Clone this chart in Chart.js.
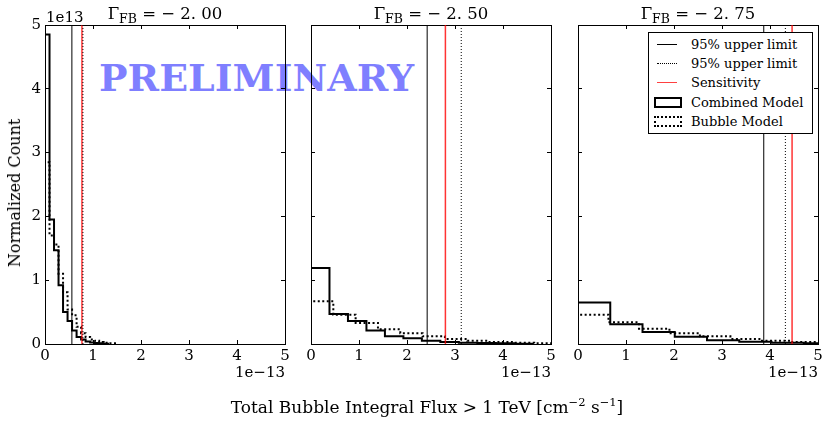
<!DOCTYPE html>
<html>
<head>
<meta charset="utf-8">
<script src="https://cdn.jsdelivr.net/npm/chart.js@4.4.1/dist/chart.umd.min.js"></script>
<style>
  body { margin: 0; background: #fff; }
  #wrap { position: relative; width: 830px; height: 424px; background: #fff; font-family: 'DejaVu Serif', serif; color: #000; overflow: hidden; }
  canvas { position: absolute; left: 0; top: 0; z-index: 1; }
  .txt { position: absolute; white-space: nowrap; line-height: 1; z-index: 2; }
  .title { font-size: 16.5px; transform: translateX(-50%); top: 6px; }
  .title sub { font-size: 12.5px; vertical-align: -3.5px; line-height: 0; }
  .offset { font-size: 15px; }
  #prelim { position: absolute; left: 99px; top: 58.5px; font-size: 38px; font-weight: bold; line-height: 1; color: rgba(0, 0, 255, 0.5); z-index: 0; white-space: nowrap; }
  #legend { position: absolute; left: 648px; top: 32px; width: 163px; height: 100px; border: 1px solid #000; background: #fff; z-index: 3; font-size: 13px; }
  .row { position: absolute; left: 0; height: 18px; display: flex; align-items: center; }
  .hl { position: absolute; left: 8px; width: 20px; height: 0; }
  .hr { position: absolute; left: 5px; width: 24px; height: 7px; }
  .lab { position: absolute; left: 42px; white-space: nowrap; }
</style>
</head>
<body>
<div id="wrap">
  <div id="prelim">PRELIMINARY</div>
  <canvas id="p1" width="830" height="424"></canvas>
  <canvas id="p2" width="830" height="424"></canvas>
  <canvas id="p3" width="830" height="424"></canvas>

  <div class="txt title" style="left:165px">&Gamma;<sub>FB</sub> = &minus; 2. 00</div>
  <div class="txt title" style="left:431px">&Gamma;<sub>FB</sub> = &minus; 2. 50</div>
  <div class="txt title" style="left:698px">&Gamma;<sub>FB</sub> = &minus; 2. 75</div>

  <div class="txt offset" style="left:46px; top:10px">1e13</div>
  <div class="txt offset" style="right:545px; top:365px">1e&minus;13</div>
  <div class="txt offset" style="right:279px; top:365px">1e&minus;13</div>
  <div class="txt offset" style="right:12px; top:365px">1e&minus;13</div>

  <div class="txt" style="left:15px; top:193px; font-size:16px; transform: translate(-50%, -50%) rotate(-90deg)">Normalized Count</div>
  <div class="txt" style="left:427px; top:397px; font-size:17px; transform: translateX(-50%)">Total Bubble Integral Flux &gt; 1 TeV [cm<sup style="font-size:11.5px">&minus;2</sup> s<sup style="font-size:11.5px">&minus;1</sup>]</div>

  <div id="legend">
    <div class="row" style="top:2px"><div class="hl" style="border-top:1px solid #000"></div><span class="lab">95% upper limit</span></div>
    <div class="row" style="top:21px"><div class="hl" style="border-top:1px dotted #000"></div><span class="lab">95% upper limit</span></div>
    <div class="row" style="top:40px"><div class="hl" style="border-top:1.5px solid rgba(255,0,0,0.75)"></div><span class="lab">Sensitivity</span></div>
    <div class="row" style="top:60px"><div class="hr" style="border:2px solid #000"></div><span class="lab">Combined Model</span></div>
    <div class="row" style="top:79px"><div class="hr" style="border:2px dotted #000"></div><span class="lab">Bubble Model</span></div>
  </div>
</div>

<script>
Chart.defaults.font.family = "'DejaVu Serif', serif";
Chart.defaults.color = '#000';

// axis ticks, shared by x (1e-13) and y (1e13)
const tickValues = [0, 1, 2, 3, 4, 5];
const tickLabels = ['0', '1', '2', '3', '4', '5'];

// Gamma = -2.00
const combined200 = [4.85, 1.95, 1.47, 0.92, 0.50, 0.36, 0.21, 0.11, 0.07, 0.04, 0.025, 0.015, 0.01, 0.005];
const bubble200 = [2.85, 1.70, 1.56, 1.10, 0.81, 0.54, 0.45, 0.27, 0.17, 0.11, 0.07, 0.05, 0.03, 0.02, 0.01, 0.01];
const binWidthCombined200 = 0.094;
const binWidthBubble200 = 0.094;

// Gamma = -2.50
const combined250 = [1.19, 0.47, 0.36, 0.21, 0.12, 0.09, 0.05, 0.03, 0.02, 0.015, 0.01, 0.005];
const bubble250 = [0.67, 0.46, 0.33, 0.23, 0.17, 0.12, 0.08, 0.05, 0.03, 0.02, 0.01];
const binWidthCombined250 = 0.385;
const binWidthBubble250 = 0.465;

// Gamma = -2.75
const combined275 = [0.65, 0.31, 0.19, 0.115, 0.06, 0.035, 0.02, 0.01];
const bubble275 = [0.46, 0.34, 0.24, 0.17, 0.12, 0.08, 0.05, 0.03];
const binWidthCombined275 = 0.672;
const binWidthBubble275 = 0.635;

// vertical markers per panel (-2.00, -2.50, -2.75)
const upperLimitCombined = [0.56, 2.42, 3.87];
const upperLimitBubble = [0.79, 3.13, 4.32];
const sensitivity = [0.77, 2.80, 4.46];

const Y_AXIS_W = 40;
const X_AXIS_H = 30;

function stepPoints(heights, width) {
    const pts = [{ x: 0, y: 0 }];
    heights.forEach((h, i) => pts.push({ x: i * width, y: h }));
    pts.push({ x: heights.length * width, y: 0 });
    return pts;
}

function vline(x) {
    return [{ x: x, y: tickValues[0] }, { x: x, y: tickValues[tickValues.length - 1] }];
}

function axis(position, showLabels) {
    const horizontal = position === 'top' || position === 'bottom';
    let size = 0;
    if (position === 'bottom') size = X_AXIS_H;
    if (position === 'left') size = Y_AXIS_W;
    return {
        type: 'linear',
        position: position,
        min: tickValues[0],
        max: tickValues[tickValues.length - 1],
        afterBuildTicks: (s) => { s.ticks = tickValues.map(v => ({ value: v })); },
        afterFit: (s) => { if (horizontal) s.height = size; else s.width = size; },
        ticks: {
            display: showLabels,
            color: '#000',
            padding: horizontal ? 7 : 8,
            maxRotation: 0,
            font: { size: 15 },
            callback: (v, i) => tickLabels[i]
        },
        grid: { drawOnChartArea: false, drawTicks: true, tickLength: -4, color: '#000', lineWidth: 1 },
        border: { display: true, color: '#000', width: 1 }
    };
}

function initPanel(id, idx, left, right, combined, wComb, bubble, wBub) {
    const canvas = document.getElementById(id);
    new Chart(canvas, {
        type: 'scatter',
        data: {
            datasets: [
                {
                    label: '95% upper limit',
                    data: vline(upperLimitCombined[idx]),
                    showLine: true, borderColor: '#000', borderWidth: 1, pointRadius: 0
                },
                {
                    label: '95% upper limit',
                    data: vline(upperLimitBubble[idx]),
                    showLine: true, borderColor: '#000', borderWidth: 1, borderDash: [1, 2], pointRadius: 0
                },
                {
                    label: 'Sensitivity',
                    data: vline(sensitivity[idx]),
                    showLine: true, borderColor: 'rgba(255, 0, 0, 0.8)', borderWidth: 1.5, pointRadius: 0
                },
                {
                    label: 'Combined Model',
                    data: stepPoints(combined, wComb),
                    showLine: true, stepped: 'before', borderColor: '#000', borderWidth: 2, pointRadius: 0
                },
                {
                    label: 'Bubble Model',
                    data: stepPoints(bubble, wBub),
                    showLine: true, stepped: 'before', borderColor: '#000', borderWidth: 2, borderDash: [2, 2.5], pointRadius: 0
                }
            ]
        },
        options: {
            responsive: false,
            animation: false,
            events: [],
            layout: { padding: { left: left - Y_AXIS_W, right: 830 - right, top: 25, bottom: 424 - 344 - X_AXIS_H } },
            plugins: {
                legend: { display: false },
                tooltip: { enabled: false }
            },
            scales: {
                x: axis('bottom', true),
                x2: axis('top', false),
                y: axis('left', idx === 0),
                y2: axis('right', false)
            }
        }
    });
}

initPanel('p1', 0, 45, 285, combined200, binWidthCombined200, bubble200, binWidthBubble200);
initPanel('p2', 1, 311, 551, combined250, binWidthCombined250, bubble250, binWidthBubble250);
initPanel('p3', 2, 578, 818, combined275, binWidthCombined275, bubble275, binWidthBubble275);
</script>
</body>
</html>
